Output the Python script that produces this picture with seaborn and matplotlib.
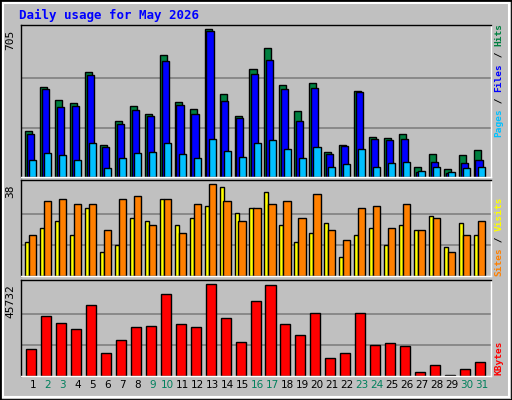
import numpy as np
import matplotlib
matplotlib.use("Agg")
import matplotlib.pyplot as plt
import seaborn as sns
from matplotlib.patches import Rectangle

days = list(range(1, 32))
hits = [222,432,370,351,501,155,265,337,303,581,356,327,705,394,293,514,614,437,313,451,121,155,413,193,188,207,49,112,40,107,131]
files = [207,418,332,341,485,145,255,322,289,552,346,303,695,365,284,494,561,418,265,427,112,150,408,183,179,183,26,73,19,67,83]
pages = [83,116,107,83,164,45,93,116,121,164,112,93,183,126,97,164,179,136,93,145,49,64,136,49,69,73,30,49,26,45,49]
sites = [14,20,23,17,28,10,13,24,23,32,21,24,29,37,26,28,35,21,14,18,22,8,17,20,13,21,19,25,12,22,17]
visits = [17,31,32,30,30,19,32,33,21,32,18,30,38,31,23,28,30,31,24,34,19,15,28,29,20,30,19,24,10,17,23]
kbytes = [13185,29710,26205,23200,35220,11685,17690,24200,24700,40725,25705,24200,45732,28710,16690,37220,45230,25705,20195,31210,9180,11685,31210,15190,16190,14690,2170,5675,670,3670,7175]
weekend = [2,3,9,10,16,17,23,24,30,31]
title = "Daily usage for May 2026"

BG = "#C0C0C0"
sns.set_theme(style="white")
fig = plt.figure(figsize=(5.12, 4.0), dpi=100, facecolor=BG)
W, H = 512, 400
def ax_at(x0, y0, x1, y1):
    return fig.add_axes([x0/W, 1-y1/H, (x1-x0)/W, (y1-y0)/H])

axs = [ax_at(20.7, 25, 490.7, 177), ax_at(20.7, 180, 490.7, 276), ax_at(20.7, 280, 490.7, 376)]
d = np.array(days, dtype=float)
mono = "DejaVu Sans Mono"

def bars(ax, off, vals, w, color):
    sns.barplot(x=d + off, y=vals, native_scale=True, width=w, color=color,
                edgecolor="black", linewidth=1.0, ax=ax, saturation=1)

bars(axs[0], -0.28, hits, 0.47, "#008040")
bars(axs[0], -0.16, files, 0.48, "#0000FF")
bars(axs[0], 0.0, pages, 0.47, "#00C0FF")
bars(axs[1], -0.38, sites, 0.27, "#FFFF00")
bars(axs[1], -0.01, visits, 0.49, "#FF8000")
bars(axs[2], -0.11, kbytes, 0.67, "#FF0000")

maxes = [max(hits), max(visits), max(kbytes)]
tops = [max(hits)*455/442, max(visits)*289/276, max(kbytes)*286/274]
for ax, m, t in zip(axs, maxes, tops):
    ax.set_facecolor(BG)
    ax.set_xlim(0.18, 31.62)
    ax.set_ylim(0, t)
    for f in (0.32, 0.65):
        ax.axhline(t*f, color="#808080", lw=1.2, zorder=0)
    ax.set_xticks([]); ax.set_yticks([])
    ax.set_xlabel(""); ax.set_ylabel("")
    for s in ("top", "left"):
        ax.spines[s].set_color("black"); ax.spines[s].set_linewidth(1)
    for s in ("bottom", "right"):
        ax.spines[s].set_color("white"); ax.spines[s].set_linewidth(1)
    ax.text(-0.012, 1.0 - (1 - m/t), str(m), transform=ax.transAxes, rotation=90,
            ha="right", va="top", fontsize=8, family=mono, color="black")

for i in days:
    axs[2].text(i, -0.04, str(i), transform=axs[2].get_xaxis_transform(), ha="center", va="top",
                fontsize=7.5, family="DejaVu Sans", color="#00805c" if i in weekend else "black")

fig.text(19/W, 1-15/H, title, color="#0000FF", fontsize=9, family=mono, weight="bold", va="center", ha="left")

FS = 6.8
cw = FS * 0.602 * 100 / 72
def side(parts, x, ybot):
    y = ybot
    for txt, col in parts:
        fig.text(x/W, 1-y/H, txt, rotation=90, color=col, fontsize=FS, family=mono,
                 weight="bold", ha="center", va="bottom")
        y -= len(txt)*cw
side([("Pages", "#00C0FF"), (" / ", "#000000"), ("Files", "#0000FF"), (" / ", "#000000"), ("Hits", "#008040")], 499, 137)
side([("Sites", "#FF8000"), (" / ", "#000000"), ("Visits", "#FFFF00")], 499, 276)
side([("KBytes", "#FF0000")], 499, 375)

fig.patches.append(Rectangle((0, 0), 1, 1, transform=fig.transFigure, fill=False, edgecolor="black", lw=2))
fig.patches.append(Rectangle((3/W, 3/H), 1-6/W, 1-6/H, transform=fig.transFigure, fill=False, edgecolor="white", lw=1.5))
fig.savefig("out.png", dpi=100, facecolor=BG)
